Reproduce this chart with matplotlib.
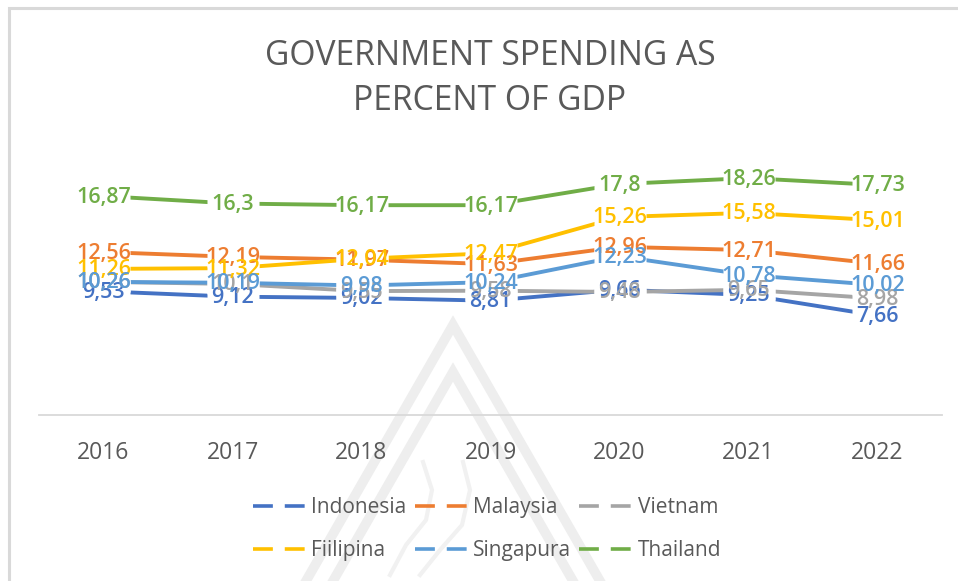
import matplotlib
matplotlib.use('Agg')
import matplotlib.pyplot as plt
from matplotlib.lines import Line2D
from matplotlib.path import Path

plt.rcParams['font.family'] = ['Open Sans', 'DejaVu Sans']

# Data
years = ['2016', '2017', '2018', '2019', '2020', '2021', '2022']
indonesia = [9.53, 9.12, 9.02, 8.81, 9.66, 9.25, 7.66]
malaysia = [12.56, 12.19, 11.97, 11.63, 12.96, 12.71, 11.66]
vietnam = [10.26, 10.1, 9.55, 9.58, 9.48, 9.65, 8.98]
fiilipina = [11.26, 11.32, 12.04, 12.47, 15.26, 15.58, 15.01]
singapura = [10.26, 10.19, 9.98, 10.24, 12.23, 10.78, 10.02]
thailand = [16.87, 16.3, 16.17, 16.17, 17.8, 18.26, 17.73]

vietnam_labels = ['10,26', '10,1', '9,55', '9,58', '9,48', '9,65', '8,98']

series = [
    ('Indonesia', indonesia, '#4472C4'),
    ('Malaysia', malaysia, '#ED7D31'),
    ('Vietnam', vietnam, '#A5A5A5'),
    ('Fiilipina', fiilipina, '#FFC000'),
    ('Singapura', singapura, '#5B9BD5'),
    ('Thailand', thailand, '#70AD47'),
]

W, H = 958, 581
fig = plt.figure(figsize=(W / 100, H / 100), dpi=100)


def fig_line(xs, ys, **kw):
    # pixel coordinates from the top-left corner of the picture
    fig.add_artist(Line2D([x / W for x in xs], [1 - y / H for y in ys], **kw))


# Watermark and the picture's border
for apex, base in [(325, 147), (372, 120)]:
    fig_line([453 - base, 453, 453 + base], [581, apex, 581], color='#EEEEEE', lw=7,
             solid_joinstyle='miter', zorder=-1)
fig_line([423, 432, 426, 406, 390], [462, 490, 520, 545, 575], color='#F1F1F1', lw=3, zorder=-1)
fig_line([463, 470, 462, 440, 420], [462, 490, 525, 550, 575], color='#F1F1F1', lw=3, zorder=-1)
fig_line([9, 9, W], [H, 8, 8], color='#D9D9D9', lw=2.2, solid_joinstyle='miter', zorder=-1)

ax = fig.add_axes([39 / W, 1 - 415 / H, 903 / W, 259.5 / H])
ax.patch.set_alpha(0)

# wide white marker that hides the lines under a label
label_gap = Path([(-1, -0.38), (1, -0.38), (1, 0.38), (-1, 0.38), (-1, -0.38)], closed=True)

# Lines and data labels
for name, values, color in series:
    ax.plot(years, values, color=color, lw=2.8, label=name, zorder=2)
    ax.plot(years, values, ls='none', marker=label_gap, ms=38, mfc='white', mec='none', zorder=3)
for name, values, color in series:
    labels = vietnam_labels if name == 'Vietnam' else [f'{v:g}'.replace('.', ',') for v in values]
    for i, v in enumerate(values):
        ax.annotate(labels[i], (i, v), xytext=(0, -0.7), textcoords='offset points', color=color,
                    fontsize=15.5, fontweight='semibold', ha='center', va='center', zorder=4)

ax.set_xlim(-0.5, 6.5)
ax.set_ylim(0, 20)
ax.set_yticks([])
for side in ['top', 'left', 'right']:
    ax.spines[side].set_visible(False)
ax.spines['bottom'].set_color('#D9D9D9')
ax.spines['bottom'].set_linewidth(1.3)
ax.tick_params(axis='x', length=0, labelsize=16.5, labelcolor='#595959', pad=18.5)

# Title
fig.text(490 / W, 1 - 78.5 / H, 'GOVERNMENT SPENDING AS\nPERCENT OF GDP', color='#595959',
         fontsize=24.2, ha='center', va='center', linespacing=1.42)

# Legend, listed by column so that it reads row by row
order = [0, 3, 1, 4, 2, 5]
handles = [Line2D([], [], color=series[i][2], lw=2.6, dashes=(5.5, 3.3), dash_capstyle='butt') for i in order]
names = [series[i][0] for i in order]
fig.legend(handles, names, ncol=3, frameon=False, fontsize=15, labelcolor='#595959',
           loc='center', bbox_to_anchor=(487 / W, 1 - 529 / H), handlelength=2.6,
           columnspacing=0.4, handletextpad=0.2, labelspacing=1.07)

fig.savefig('out.png', dpi=100)
